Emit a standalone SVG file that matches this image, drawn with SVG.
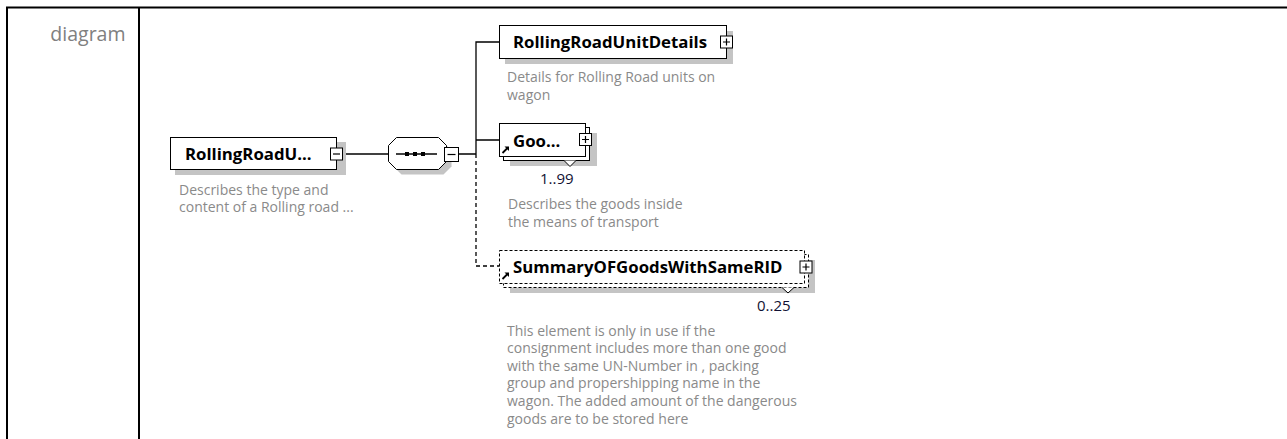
<svg xmlns="http://www.w3.org/2000/svg" width="1287" height="439" viewBox="0 0 1287 439">
<style>
.frame{stroke:#000;stroke-width:2;fill:none}
.box{fill:#fff;stroke:#000;stroke-width:1}
.dbox{fill:#fff;stroke:#000;stroke-width:1;stroke-dasharray:3 2}
.shadow{fill:#c4c4c4}
.name{font-family:"Open Sans","Liberation Sans",sans-serif;font-weight:bold;font-size:16.8px;fill:#000}
.desc{font-family:"Open Sans","Liberation Sans",sans-serif;font-size:14px;fill:#8a8a8a}
.occ{font-family:"Open Sans","Liberation Sans",sans-serif;font-size:15px;fill:#111133}
.lbl{font-family:"Open Sans","Liberation Sans",sans-serif;font-size:19.5px;fill:#808080}
.line{stroke:#000;stroke-width:1.3;fill:none}
.dline{stroke:#000;stroke-width:1.3;fill:none;stroke-dasharray:4 3}
.pm{fill:#fff;stroke:#000;stroke-width:1}
</style>
<defs>
<g id="plus"><rect class="pm" x="0.5" y="0.5" width="12" height="12"/><path d="M3 6.5H10M6.5 3V10" stroke="#000" stroke-width="1.2"/></g>
<g id="minus"><rect class="pm" x="0.5" y="0.5" width="12" height="12"/><path d="M3 6.5H10" stroke="#000" stroke-width="1.2"/></g>
<g id="ref"><path d="M1.5 8.5L6.5 3.5" stroke="#000" stroke-width="1.8"/><path d="M3.5 2H8V6.5Z" fill="#000"/></g>
</defs>

<g id="frame">
<path class="frame" d="M6 7.5H1287M7 7.5V439M139 7.5V439"/>
<text class="lbl" x="125.5" y="40.5" text-anchor="end">diagram</text>
</g>

<g id="connectors">
<path class="line" d="M342.5 154H388.5"/>
<path class="line" d="M458 154H476M476 154V42H499.5M476 140H499.5"/>
<path class="dline" d="M476 154V266H499.5"/>
</g>

<g id="root">
<rect class="shadow" x="175" y="142" width="171" height="33"/>
<rect class="box" x="170.5" y="137.5" width="166" height="32"/>
<text class="name" x="185" y="160">RollingRoadU...</text>
<use href="#minus" x="330" y="147.5"/>
<text class="desc" x="179" y="194.5">Describes the type and</text>
<text class="desc" x="179" y="212">content of a Rolling road ...</text>
</g>

<g id="sequence">
<polygon class="shadow" points="401.5,142.5 443.5,142.5 451.5,150.5 451.5,166.5 443.5,174.5 401.5,174.5 393.5,166.5 393.5,150.5"/>
<polygon class="box" points="396.5,137.5 438.5,137.5 446.5,145.5 446.5,161.5 438.5,169.5 396.5,169.5 388.5,161.5 388.5,145.5"/>
<path d="M396 154H437" stroke="#000" stroke-width="1.5"/>
<rect x="405" y="152" width="4" height="4" fill="#000"/>
<rect x="413" y="152" width="4" height="4" fill="#000"/>
<rect x="421" y="152" width="4" height="4" fill="#000"/>
<rect class="pm" x="444.5" y="147.5" width="14" height="14"/>
<path d="M447.5 154.5H455.5" stroke="#000" stroke-width="1.2"/>
</g>

<g id="RollingRoadUnitDetails">
<rect class="shadow" x="505" y="31" width="228" height="33"/>
<rect class="box" x="499.5" y="25.5" width="227" height="33"/>
<text class="name" x="513" y="48.3">RollingRoadUnitDetails</text>
<use href="#plus" x="720" y="35.5"/>
<text class="desc" x="507" y="82">Details for Rolling Road units on</text>
<text class="desc" x="507" y="99.6">wagon</text>
</g>

<g id="Goods">
<rect class="shadow" x="510" y="133" width="87" height="33"/>
<rect class="box" x="503.5" y="127.5" width="86" height="33"/>
<rect class="box" x="499.5" y="123.5" width="86" height="33"/>
<text class="name" x="513" y="147">Goo...</text>
<use href="#ref" x="501" y="144.5"/>
<use href="#plus" x="579" y="133"/>
<path d="M564 160.5L570 166.5L576 160.5" fill="#fff" stroke="#000" stroke-width="1"/>
<text class="occ" x="540" y="183.5">1..99</text>
<text class="desc" x="508" y="209">Describes the goods inside</text>
<text class="desc" x="508" y="226.6">the means of transport</text>
</g>

<g id="SummaryOFGoodsWithSameRID">
<rect class="shadow" x="510" y="260" width="305" height="33"/>
<rect class="dbox" x="503.5" y="254.5" width="305" height="33"/>
<rect class="dbox" x="499.5" y="250.5" width="305" height="33"/>
<text class="name" x="513" y="273.3">SummaryOFGoodsWithSameRID</text>
<use href="#ref" x="501" y="270.5"/>
<use href="#plus" x="799.5" y="260.5"/>
<path d="M782 287.5L788 293L794 287.5" fill="#fff" stroke="#000" stroke-width="1"/>
<text class="occ" x="757" y="310.5">0..25</text>
<text class="desc" x="507" y="335.5">This element is only in use if the</text>
<text class="desc" x="507" y="353.1">consignment includes more than one good</text>
<text class="desc" x="507" y="370.7">with the same UN-Number in , packing</text>
<text class="desc" x="507" y="388.3">group and propershipping name in the</text>
<text class="desc" x="507" y="405.9">wagon. The added amount of the dangerous</text>
<text class="desc" x="507" y="423.5">goods are to be stored here</text>
</g>
</svg>
